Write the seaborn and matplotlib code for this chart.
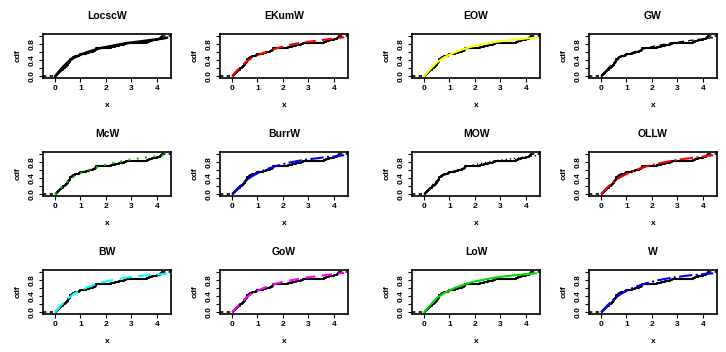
import numpy as np
import pandas as pd
import matplotlib
matplotlib.use("Agg")
import matplotlib.pyplot as plt
import seaborn as sns

# sample (read from the empirical cdf steps)
sample = [0.05, 0.08, 0.12, 0.16, 0.20, 0.25, 0.30, 0.33, 0.38, 0.42, 0.46, 0.50,
          0.52, 0.55, 0.57, 0.59, 0.60, 0.65, 0.72, 0.80, 0.95, 1.00, 1.20, 1.35,
          1.50, 1.58, 1.60, 1.61, 2.20, 2.35, 2.50, 2.70, 2.80, 3.60, 3.70, 3.80,
          4.00, 4.10, 4.15, 4.20]

# fitted cdf curves, read at these x positions
x_grid = [0.0, 0.25, 0.5, 0.75, 1.0, 1.25, 1.5, 1.75, 2.0, 2.25, 2.5, 2.75,
          3.0, 3.25, 3.5, 3.75, 4.0, 4.25, 4.4]
cdf_locscw = [0.0, 0.19, 0.35, 0.46, 0.53, 0.59, 0.64, 0.69, 0.72, 0.75, 0.78, 0.81,
              0.83, 0.85, 0.87, 0.89, 0.91, 0.93, 0.95]
cdf_ekumw = [0.0, 0.18, 0.33, 0.44, 0.52, 0.58, 0.64, 0.69, 0.73, 0.77, 0.80, 0.83,
             0.85, 0.87, 0.89, 0.91, 0.93, 0.95, 0.96]
cdf_eow = [0.0, 0.18, 0.34, 0.45, 0.53, 0.60, 0.66, 0.71, 0.75, 0.78, 0.81, 0.84,
           0.86, 0.88, 0.90, 0.91, 0.93, 0.94, 0.95]
cdf_gw = [0.0, 0.18, 0.34, 0.45, 0.53, 0.59, 0.64, 0.69, 0.73, 0.76, 0.79, 0.82,
          0.84, 0.86, 0.88, 0.90, 0.92, 0.94, 0.95]
cdf_mcw = [0.0, 0.17, 0.32, 0.44, 0.52, 0.58, 0.64, 0.69, 0.73, 0.77, 0.80, 0.83,
           0.86, 0.88, 0.90, 0.92, 0.94, 0.96, 0.97]
cdf_burrw = [0.0, 0.16, 0.31, 0.43, 0.52, 0.59, 0.65, 0.70, 0.74, 0.78, 0.81, 0.84,
             0.86, 0.88, 0.90, 0.92, 0.93, 0.95, 0.96]
cdf_mow = [0.0, 0.18, 0.34, 0.45, 0.53, 0.59, 0.64, 0.69, 0.73, 0.76, 0.79, 0.82,
           0.84, 0.86, 0.88, 0.90, 0.92, 0.94, 0.95]
cdf_ollw = [0.0, 0.17, 0.31, 0.42, 0.50, 0.57, 0.63, 0.68, 0.72, 0.76, 0.79, 0.82,
            0.85, 0.87, 0.89, 0.91, 0.93, 0.95, 0.96]
cdf_bw = [0.0, 0.18, 0.34, 0.46, 0.54, 0.61, 0.67, 0.72, 0.76, 0.79, 0.82, 0.85,
          0.87, 0.89, 0.90, 0.92, 0.93, 0.94, 0.95]
cdf_gow = [0.0, 0.17, 0.33, 0.45, 0.53, 0.60, 0.66, 0.71, 0.75, 0.78, 0.81, 0.84,
           0.86, 0.88, 0.90, 0.92, 0.94, 0.96, 0.97]
cdf_low = [0.0, 0.18, 0.35, 0.46, 0.54, 0.61, 0.67, 0.72, 0.76, 0.79, 0.82, 0.85,
           0.87, 0.89, 0.91, 0.92, 0.94, 0.95, 0.96]
cdf_w = [0.0, 0.17, 0.32, 0.44, 0.53, 0.60, 0.66, 0.71, 0.75, 0.79, 0.82, 0.85,
         0.87, 0.89, 0.91, 0.92, 0.94, 0.95, 0.96]

models = ["LocscW", "EKumW", "EOW", "GW", "McW", "BurrW", "MOW", "OLLW",
          "BW", "GoW", "LoW", "W"]
fits = [cdf_locscw, cdf_ekumw, cdf_eow, cdf_gw, cdf_mcw, cdf_burrw, cdf_mow,
        cdf_ollw, cdf_bw, cdf_gow, cdf_low, cdf_w]
colors = ["black", "red", "yellow", "black", "#00CC00", "blue", "black", "red",
          "cyan", "magenta", "#00DD00", "blue"]
styles = ["-", (0, (5, 3)), "-", (0, (4, 3)), (0, (1, 3)), "-.", (0, (1, 2)), "-.",
          (0, (6, 3)), (0, (5, 3)), "-", "-."]
widths = [1.8, 1.5, 1.5, 1.0, 1.5, 1.5, 1.0, 1.5, 1.5, 1.5, 1.5, 1.5]

sns.set_style("ticks")
plt.rcParams["font.family"] = ["Liberation Sans", "DejaVu Sans"]
plt.rcParams["font.weight"] = "bold"
plt.rcParams["text.color"] = "black"
plt.rcParams["axes.labelcolor"] = "black"
plt.rcParams["xtick.color"] = "black"
plt.rcParams["ytick.color"] = "black"

fig = plt.figure(figsize=(7.26, 3.52), dpi=100)
W, H = 726, 352
col_left = [43, 220, 412, 589]
row_top = [34, 152, 270]
aw, ah = 128, 44

smin, smax = min(sample), max(sample)
xlo, xhi = -0.47, 4.55

for i, name in enumerate(models):
    r, c = divmod(i, 4)
    ax = fig.add_axes([col_left[c] / W, 1 - (row_top[r] + ah) / H, aw / W, ah / H])

    # empirical cdf
    sns.ecdfplot(x=sample, ax=ax, color="black", lw=1.5)
    ax.plot([xlo, smin], [0, 0], color="black", lw=1.2, ls=(0, (2, 2)))
    ax.plot([smax, xhi], [1, 1], color="black", lw=1.2, ls=(0, (2, 2)))

    # fitted cdf
    df = pd.DataFrame({"x": x_grid, "F": fits[i]})
    sns.lineplot(data=df, x="x", y="F", ax=ax, color=colors[i],
                 linestyle=styles[i], lw=widths[i])

    ax.set_xlim(xlo, xhi)
    ax.set_ylim(-0.04, 1.04)
    ax.set_xticks([0, 1, 2, 3, 4])
    ax.set_xticklabels(["0", "1", "2", "3", "4"], fontsize=6, fontweight="bold")
    ax.set_yticks([0, 0.2, 0.4, 0.6, 0.8, 1.0])
    ax.set_yticklabels(["0.0", "", "0.4", "", "0.8", ""], fontsize=6,
                       fontweight="bold", rotation=90, va="center")
    ax.tick_params(length=3, width=0.8, pad=2, direction="out")
    for s in ax.spines.values():
        s.set_visible(True)
        s.set_linewidth(1.2)
        s.set_color("black")
    ax.set_xlabel("x", fontsize=6, fontweight="bold", labelpad=7)
    ax.set_ylabel("cdf", fontsize=6, fontweight="bold", labelpad=5)
    ax.set_title(name, fontsize=7.5, fontweight="bold", pad=11)

fig.savefig("out.png", dpi=100, facecolor="white")
